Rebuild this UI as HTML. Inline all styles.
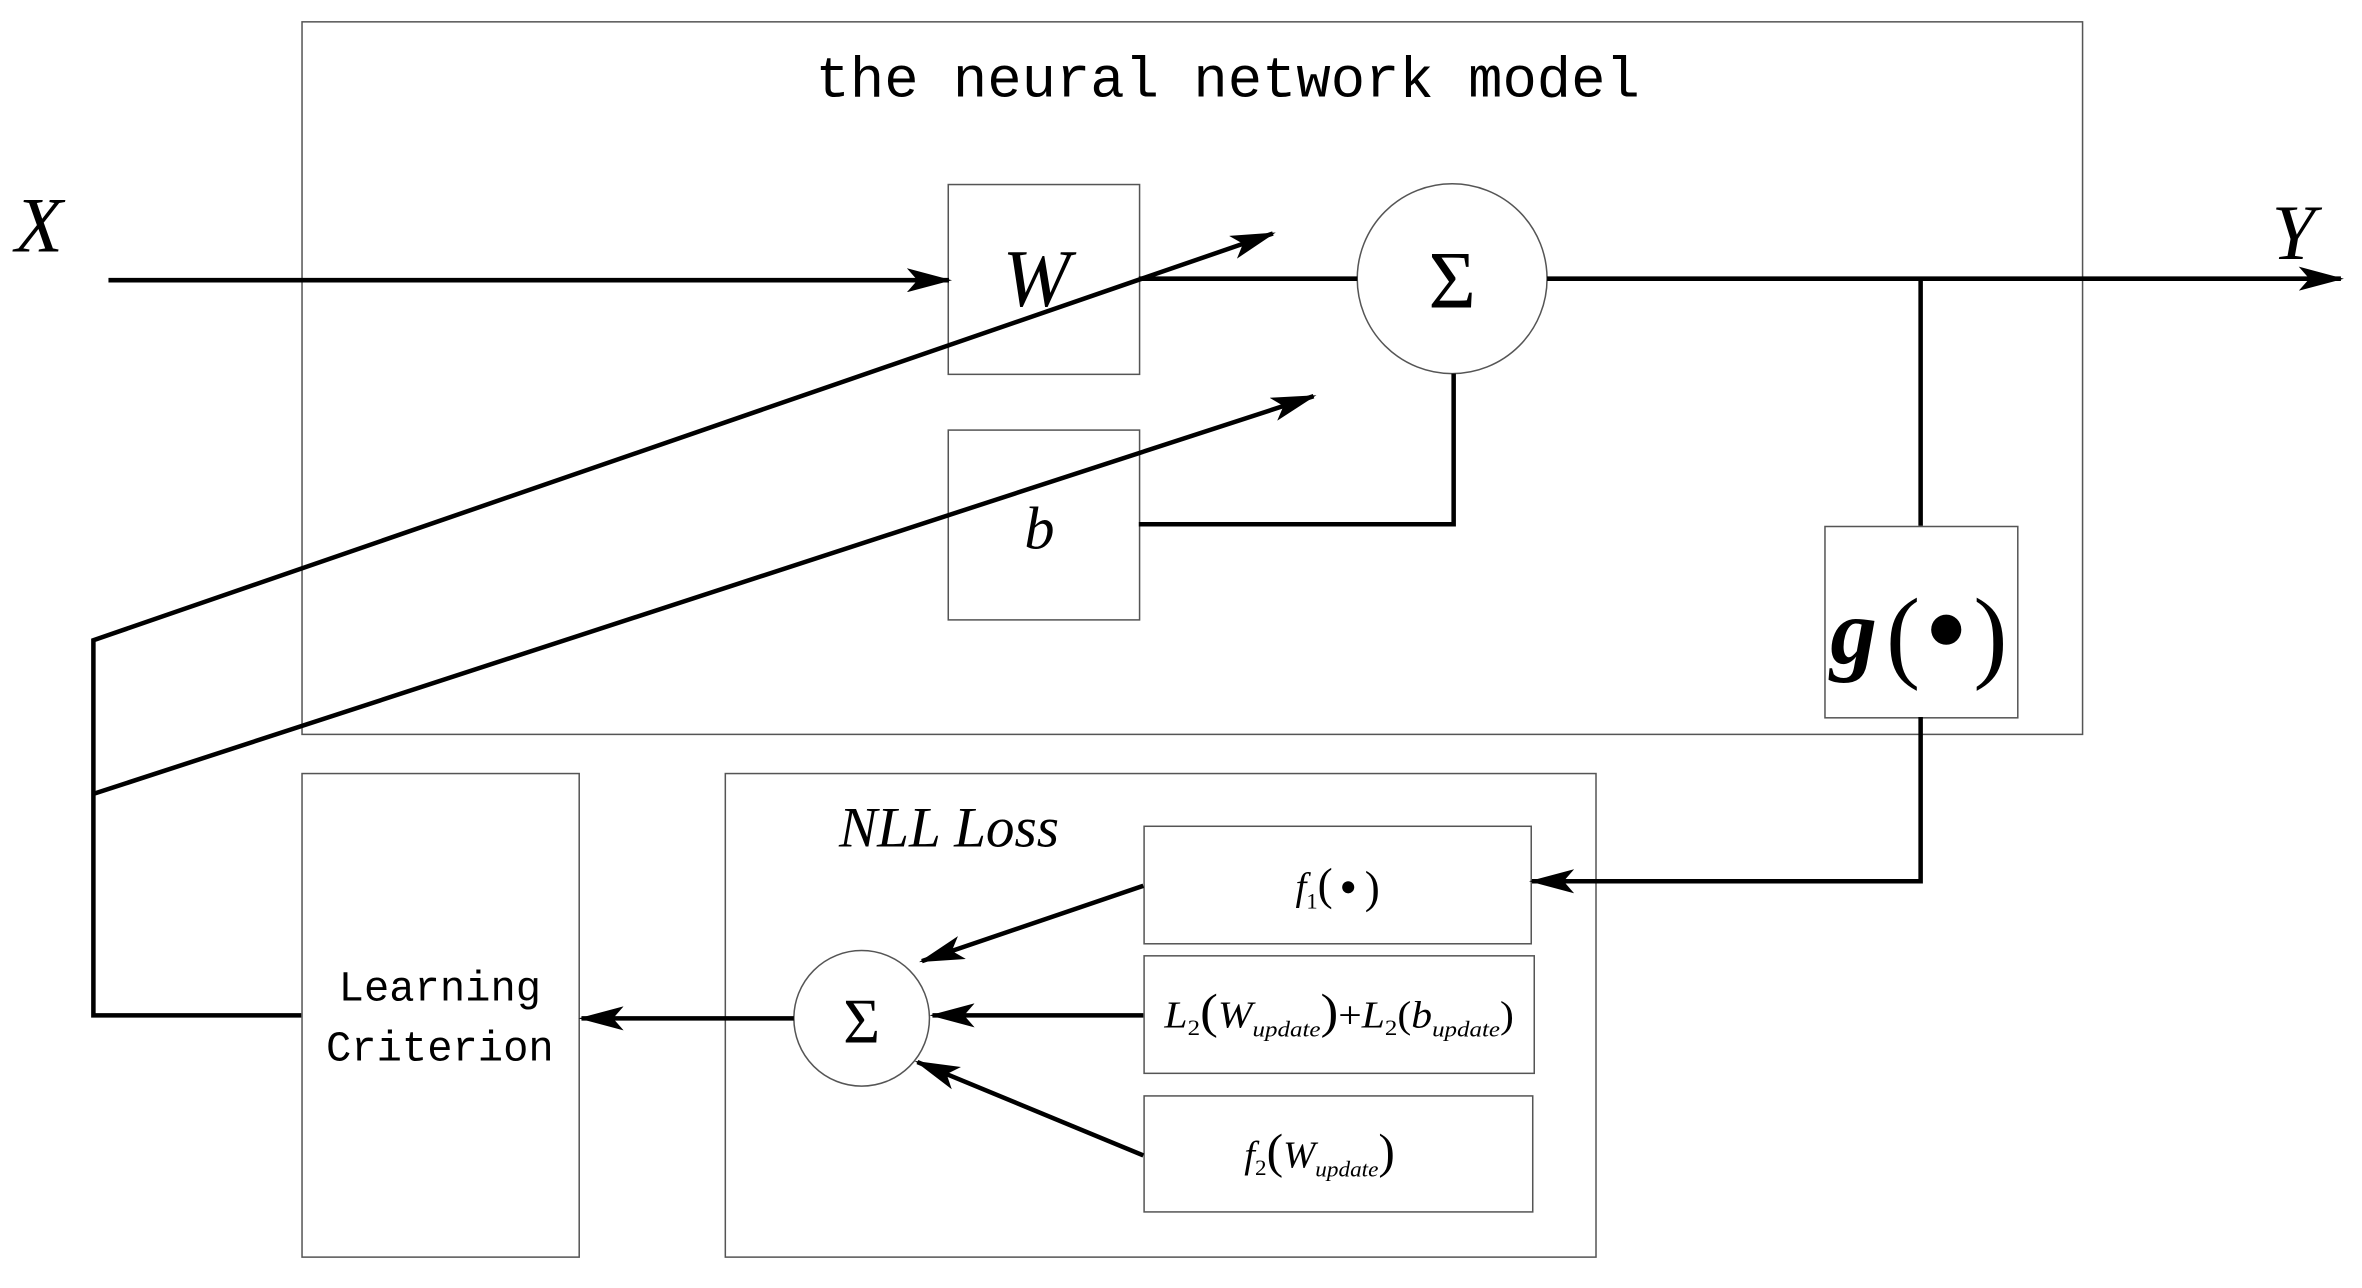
<!DOCTYPE html>
<html><head><meta charset="utf-8"><style>
html,body{margin:0;padding:0;background:#fff;}
svg{display:block;}
.m{font-family:"Liberation Mono",monospace;}
.s{font-family:"Liberation Serif",serif;}
</style></head><body>
<svg width="2362" height="1288" viewBox="0 0 1568 855" preserveAspectRatio="none" xmlns="http://www.w3.org/2000/svg">
<defs>
<marker id="a" markerWidth="30" markerHeight="16" refX="28" refY="8" orient="auto" markerUnits="userSpaceOnUse">
<path d="M0,0 L30,8 L0,16 L7,8 Z" fill="#000"/>
</marker>
</defs>
<g fill="none" stroke="#555" stroke-width="1">
<rect x="200.5" y="14.5" width="1182" height="473"/>
<rect x="629.5" y="122.5" width="127" height="126"/>
<rect x="629.5" y="285.5" width="127" height="126"/>
<rect x="1211.5" y="349.5" width="128" height="127"/>
<rect x="200.5" y="513.5" width="184" height="321"/>
<rect x="481.5" y="513.5" width="578" height="321"/>
<rect x="759.5" y="548.5" width="257" height="78"/>
<rect x="759.5" y="634.5" width="259" height="78"/>
<rect x="759.5" y="727.5" width="258" height="77"/>
<circle cx="964" cy="185" r="63"/>
<circle cx="572" cy="676" r="45"/>
</g>
<g fill="none" stroke="#000" stroke-width="3">
<line x1="72" y1="186" x2="630" y2="186" marker-end="url(#a)"/>
<line x1="756" y1="185" x2="901" y2="185"/>
<line x1="1027" y1="185" x2="1554" y2="185" marker-end="url(#a)"/>
<polyline points="756,348 965,348 965,248"/>
<line x1="1275" y1="185" x2="1275" y2="349"/>
<polyline points="1275,476 1275,585 1017,585" marker-end="url(#a)"/>
<polyline points="200,674 62,674 62,425 845,155" marker-end="url(#a)"/>
<line x1="62" y1="527" x2="872" y2="263" marker-end="url(#a)"/>
<line x1="759" y1="588" x2="612" y2="638" marker-end="url(#a)"/>
<line x1="759" y1="674" x2="619" y2="674" marker-end="url(#a)"/>
<line x1="759" y1="767" x2="609" y2="705" marker-end="url(#a)"/>
<line x1="527" y1="676" x2="386" y2="676" marker-end="url(#a)"/>
</g>
<g fill="#000">
<text class="m" x="815" y="64" font-size="38" text-anchor="middle">the neural network model</text>
<text class="s" x="10" y="167" font-size="52" font-style="italic">X</text>
<text class="s" x="1508" y="172" font-size="52" font-style="italic">Y</text>
<text class="s" x="688" y="203" font-size="54" font-style="italic" text-anchor="middle">W</text>
<text class="s" x="964" y="204" font-size="54" text-anchor="middle">Σ</text>
<text class="s" x="690" y="364" font-size="40" font-style="italic" text-anchor="middle">b</text>
<text class="s" x="1215" y="440" font-size="62" font-style="italic" font-weight="bold">g</text>
<text class="s" x="1252" y="444" font-size="68">(</text>
<circle cx="1292" cy="418" r="10"/>
<text class="s" x="1310" y="444" font-size="68">)</text>
<text class="m" x="292" y="664" font-size="28" text-anchor="middle">Learning</text>
<text class="m" x="292" y="704" font-size="28" text-anchor="middle">Criterion</text>
<text class="s" x="630" y="562" font-size="38" font-style="italic" text-anchor="middle">NLL Loss</text>
<text class="s" x="572" y="692" font-size="42" text-anchor="middle">Σ</text>
<text class="s" x="860" y="597" font-size="26" font-style="italic">f<tspan font-size="15" dy="6" font-style="normal">1</tspan><tspan dy="-6" font-style="normal" font-size="30">(</tspan></text>
<circle cx="895" cy="589" r="4"/>
<text class="s" x="906" y="599" font-size="30">)</text>
<text class="s" x="773" y="682" font-size="25" font-style="italic" textLength="232" lengthAdjust="spacingAndGlyphs">L<tspan font-size="15" dy="5" font-style="normal">2</tspan><tspan dy="-5" font-style="normal" font-size="32">(</tspan>W<tspan font-size="15" dy="6">update</tspan><tspan dy="-6" font-style="normal" font-size="32">)</tspan><tspan font-style="normal">+</tspan>L<tspan font-size="15" dy="5" font-style="normal">2</tspan><tspan dy="-5" font-style="normal">(</tspan>b<tspan font-size="15" dy="6">update</tspan><tspan dy="-6" font-style="normal">)</tspan></text>
<text class="s" x="826" y="775" font-size="25" font-style="italic" textLength="100" lengthAdjust="spacingAndGlyphs">f<tspan font-size="15" dy="5" font-style="normal">2</tspan><tspan dy="-5" font-style="normal" font-size="32">(</tspan>W<tspan font-size="15" dy="6">update</tspan><tspan dy="-6" font-style="normal" font-size="32">)</tspan></text>
</g>
</svg>
</body></html>
